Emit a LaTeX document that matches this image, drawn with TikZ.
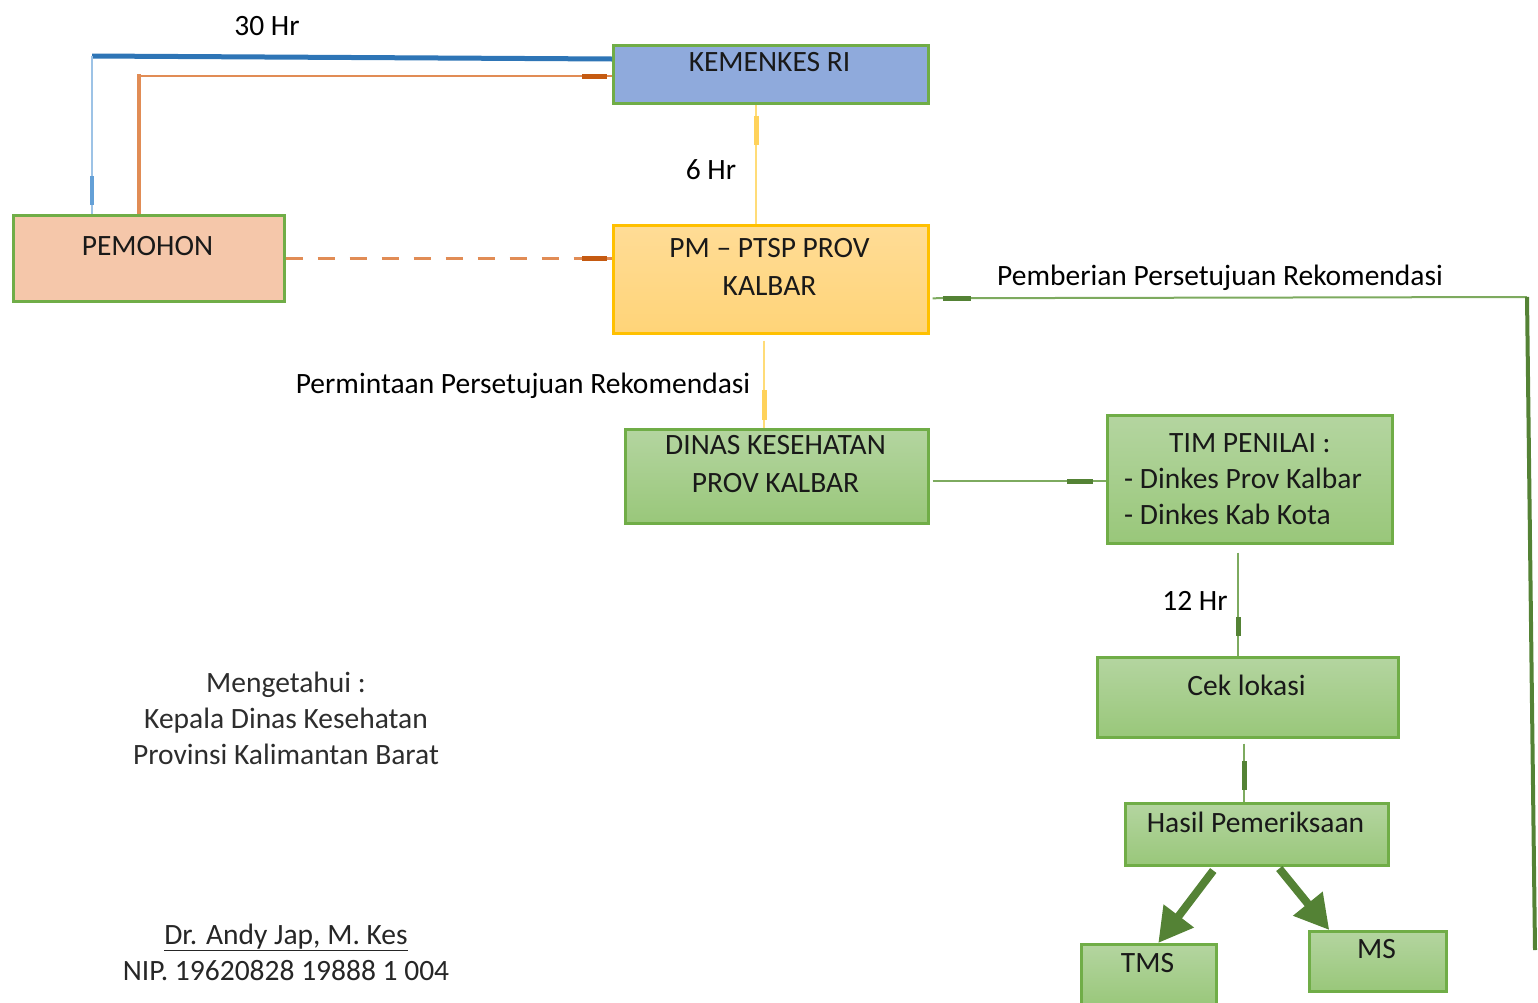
\documentclass[tikz,border=0pt]{standalone}
\usepackage{fontspec}
\setmainfont{Carlito}
\usetikzlibrary{arrows.meta,calc}
\definecolor{bordgreen}{RGB}{112,173,71}
\definecolor{darkgreen}{RGB}{84,130,53}
\definecolor{linegreen}{RGB}{125,170,95}
\definecolor{gtop}{RGB}{180,213,160}
\definecolor{gbot}{RGB}{153,199,122}
\definecolor{kemfill}{RGB}{143,170,220}
\definecolor{pmtop}{RGB}{255,220,150}
\definecolor{pmbot}{RGB}{255,212,120}
\definecolor{pmborder}{RGB}{255,192,0}
\definecolor{pemfill}{RGB}{245,199,170}
\definecolor{bluethick}{RGB}{46,117,182}
\definecolor{bluelight}{RGB}{157,195,230}
\definecolor{bluestub}{RGB}{100,160,215}
\definecolor{orangeln}{RGB}{225,140,85}
\definecolor{orangestub}{RGB}{197,90,17}
\definecolor{yellowln}{RGB}{255,220,120}
\definecolor{yellowstub}{RGB}{255,210,90}
\definecolor{boxtext}{RGB}{25,25,25}
\definecolor{signtext}{RGB}{45,45,45}
\begin{document}
\begin{tikzpicture}[x=1pt,y=-1pt,
  box/.style={draw=bordgreen, line width=2.5pt, inner sep=0pt, anchor=north west},
  gbox/.style={box, top color=gtop, bottom color=gbot},
  btxt/.style={font=\fontsize{29.5}{38}\selectfont, text=boxtext, align=center, inner sep=0pt},
  lbl/.style={font=\fontsize{29.5}{34}\selectfont, inner sep=0pt},
  sign/.style={font=\fontsize{29.5}{36}\selectfont, text=signtext, align=center, inner sep=0pt},
  stubline/.style={line width=5pt},
  bigarrow/.style={draw=darkgreen, line width=8pt, -{Triangle[width=36pt,length=34pt]}}
]
\useasboundingbox (0,0) rectangle (1538,1002);

% ---------- boxes ----------
\node[box, fill=kemfill, minimum width=315pt, minimum height=58pt] (kem) at (612,44) {};
\node[btxt] (kemt) at (769.5,62) {KEMENKES RI};

\node[box, draw=pmborder, top color=pmtop, bottom color=pmbot, minimum width=315pt, minimum height=108pt] (pm) at (612,224) {};
\node[btxt] (pmt) at (769.5,267) {PM -- PTSP PROV\\KALBAR};

\node[box, fill=pemfill, minimum width=271pt, minimum height=86pt] (pem) at (12,214) {};
\node[btxt] (pemt) at (147.5,246) {PEMOHON};

\node[gbox, minimum width=303pt, minimum height=94pt] (din) at (624,428) {};
\node[btxt] (dint) at (775.5,464) {DINAS KESEHATAN\\PROV KALBAR};

\node[gbox, minimum width=285pt, minimum height=128pt] (tim) at (1106,414) {};
\node[btxt, align=left, font=\fontsize{29.5}{36}\selectfont] (timt) at (1243,479) {\hspace*{45pt}TIM PENILAI :\\- Dinkes Prov Kalbar\\- Dinkes Kab Kota};

\node[gbox, minimum width=301pt, minimum height=80pt] (cek) at (1096,656) {};
\node[btxt] (cekt) at (1246.5,685) {Cek lokasi};

\node[gbox, minimum width=263pt, minimum height=62pt] (has) at (1124,802) {};
\node[btxt] (hast) at (1255.5,822) {Hasil Pemeriksaan};

\node[gbox, minimum width=135pt, minimum height=62pt] (tms) at (1080,943) {};
\node[btxt] (tmst) at (1147.5,963) {TMS};

\node[gbox, minimum width=137pt, minimum height=60pt] (ms) at (1308,930) {};
\node[btxt] (mst) at (1376.5,949) {MS};

% ---------- labels ----------
\node[lbl] (l30) at (267,26) {30 Hr};
\node[lbl] (l6) at (711,170) {6 Hr};
\node[lbl] (lpem) at (1220,278) {Pemberian Persetujuan Rekomendasi};
\node[lbl] (lper) at (523,386) {Permintaan Persetujuan Rekomendasi};
\node[lbl] (l12) at (1195,601) {12 Hr};

\node[sign] (meng) at (286,718) {Mengetahui :\\Kepala Dinas Kesehatan\\Provinsi Kalimantan Barat};
\node[sign, text=black!85] (dr) at (286,952) {\underline{Dr. Andy Jap, M. Kes}\\NIP. 19620828 19888 1 004};

% ---------- connectors ----------
% blue: PEMOHON -> KEMENKES
\coordinate (b1) at (92,56);
\draw[bluethick, line width=5pt] ($(kem.north west)+(0,15)$) -- (b1);
\draw[bluelight, line width=2pt] (b1) -- (pem.north -| b1);
\draw[bluestub, stubline, line width=4pt] ($(pem.north -| b1)+(0,-38)$) -- ($(pem.north -| b1)+(0,-9)$);

% orange: PEMOHON -> KEMENKES
\coordinate (o1) at (139,76);
\draw[orangeln, line width=4pt] (pem.north -| o1) -- ($(o1)+(0,-2)$);
\draw[orangeln, line width=2pt] (o1) -- (kem.west |- o1);
\draw[orangestub, stubline] ($(kem.west |- o1)+(-30,0)$) -- ($(kem.west |- o1)+(-5,0)$);

% dashed orange: PEMOHON -> PM
\draw[orangeln, line width=2.5pt, dash pattern=on 17pt off 15pt] (pem.east) -- (pem.east -| pm.west);
\draw[orangestub, stubline] ($(pem.east -| pm.west)+(-30,0)$) -- ($(pem.east -| pm.west)+(-5,0)$);

% yellow: PM -> KEMENKES
\draw[yellowln, line width=2pt] ($(pm.north)+(-14.5,0)$) -- ($(kem.south)+(-14.5,0)$);
\draw[yellowstub, stubline] ($(kem.south)+(-14.5,11)$) -- ($(kem.south)+(-14.5,40)$);

% yellow: PM -> DINAS
\draw[yellowln, line width=2pt] ($(pm.south)+(-6.5,6)$) -- ($(din.north)+(-12.5,0)$);
\draw[yellowstub, stubline] ($(din.north)+(-12.5,-38)$) -- ($(din.north)+(-12.5,-8)$);

% green: DINAS -> TIM
\draw[linegreen, line width=2pt] ($(din.east)+(3,5)$) -- ($(tim.west)+(0,2)$);
\draw[darkgreen, stubline] ($(tim.west)+(-39,2)$) -- ($(tim.west)+(-13,2)$);

% green: right return line -> PM
\coordinate (g1) at (1527,297);
\coordinate (g2) at (1535,950);
\draw[linegreen, line width=2pt] ($(pm.east)+(3,19)$) -- (g1);
\draw[darkgreen, line width=4pt] (g1) -- (g2);
\draw[darkgreen, stubline] ($(pm.east)+(13,19)$) -- ($(pm.east)+(41,19)$);

% green: TIM -> Cek lokasi
\draw[linegreen, line width=2pt] ($(tim.south)+(-11.5,8)$) -- ($(cek.north)+(-9.5,0)$);
\draw[darkgreen, stubline] ($(cek.north)+(-9.5,-39)$) -- ($(cek.north)+(-9.5,-20)$);

% green: Cek lokasi -> Hasil
\draw[linegreen, line width=2pt] ($(cek.south)+(-3.5,5)$) -- ($(has.north)+(-12.5,0)$);
\draw[darkgreen, stubline] ($(has.north)+(-12.5,-41)$) -- ($(has.north)+(-12.5,-12)$);

% thick arrows: Hasil -> TMS, Hasil -> MS
\draw[bigarrow] ($(has.south)+(-43.5,4)$) -- ($(tms.north)+(9.5,0)$);
\draw[bigarrow] ($(has.south)+(22.5,2)$) -- ($(ms.north)+(-48.5,0)$);
\end{tikzpicture}
\end{document}
